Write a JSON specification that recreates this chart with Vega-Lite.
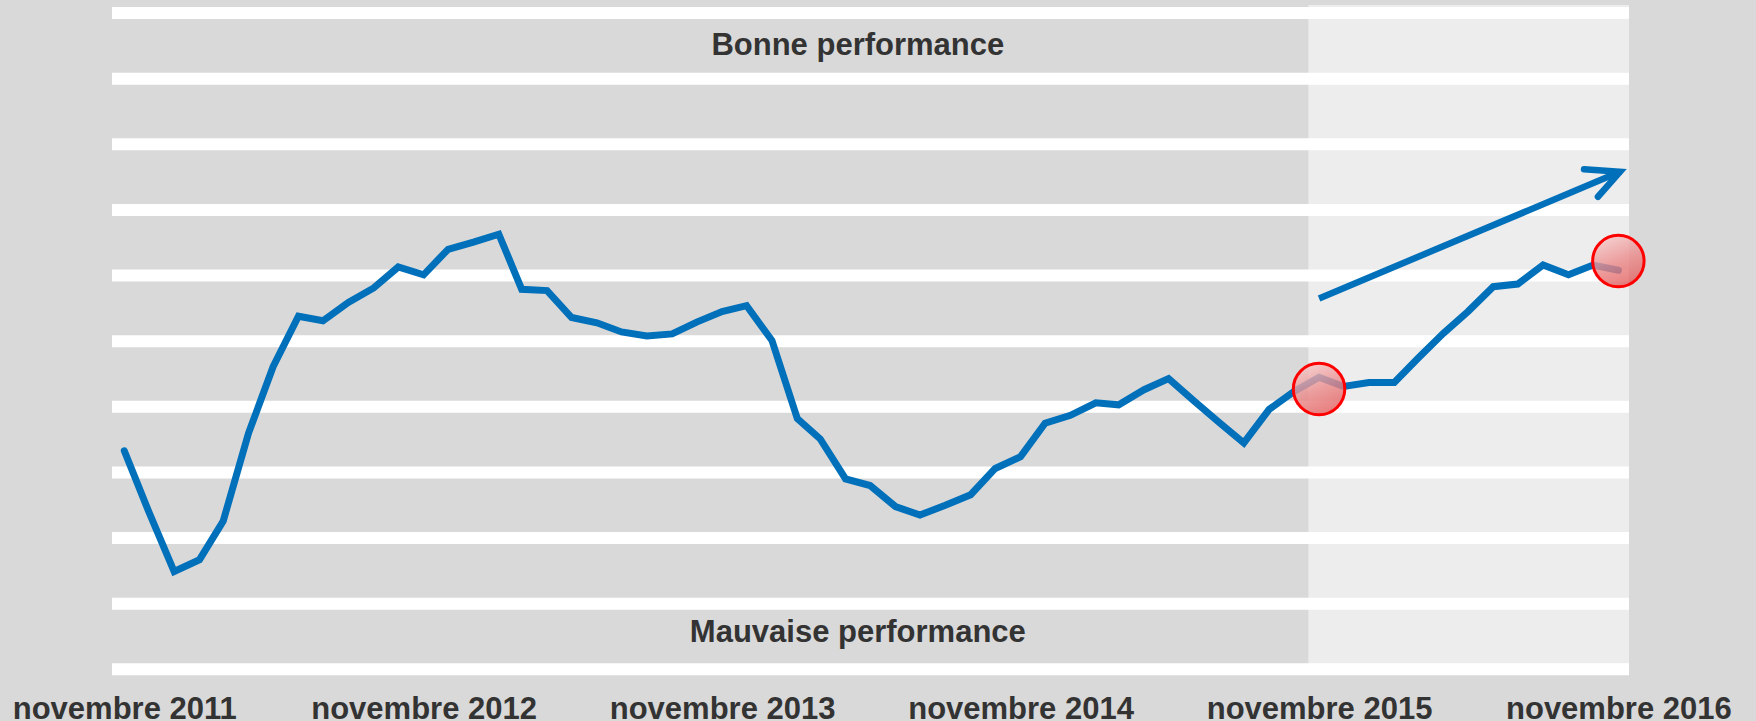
{
  "$schema": "https://vega.github.io/schema/vega-lite/v6.json",
  "width": 1517,
  "height": 680,
  "autosize": {"type": "none"},
  "padding": {"left": 112, "top": 0, "right": 127, "bottom": 41},
  "background": "#D9D9D9",
  "config": {"view": {"stroke": null, "fill": null}},
  "datasets": {
    "serie": [
      {"date": "2011-11-01", "valeur": 3.33},
      {"date": "2011-12-01", "valeur": 2.40},
      {"date": "2012-01-01", "valeur": 1.49},
      {"date": "2012-02-01", "valeur": 1.67},
      {"date": "2012-03-01", "valeur": 2.26},
      {"date": "2012-04-01", "valeur": 3.60},
      {"date": "2012-05-01", "valeur": 4.61},
      {"date": "2012-06-01", "valeur": 5.38},
      {"date": "2012-07-01", "valeur": 5.31},
      {"date": "2012-08-01", "valeur": 5.59},
      {"date": "2012-09-01", "valeur": 5.81},
      {"date": "2012-10-01", "valeur": 6.13},
      {"date": "2012-11-01", "valeur": 6.01},
      {"date": "2012-12-01", "valeur": 6.40},
      {"date": "2013-01-01", "valeur": 6.51},
      {"date": "2013-02-01", "valeur": 6.63},
      {"date": "2013-03-01", "valeur": 5.79},
      {"date": "2013-04-01", "valeur": 5.77},
      {"date": "2013-05-01", "valeur": 5.36},
      {"date": "2013-06-01", "valeur": 5.28},
      {"date": "2013-07-01", "valeur": 5.14},
      {"date": "2013-08-01", "valeur": 5.08},
      {"date": "2013-09-01", "valeur": 5.11},
      {"date": "2013-10-01", "valeur": 5.29},
      {"date": "2013-11-01", "valeur": 5.45},
      {"date": "2013-12-01", "valeur": 5.54},
      {"date": "2014-01-01", "valeur": 5.01},
      {"date": "2014-02-01", "valeur": 3.82},
      {"date": "2014-03-01", "valeur": 3.51},
      {"date": "2014-04-01", "valeur": 2.90},
      {"date": "2014-05-01", "valeur": 2.80},
      {"date": "2014-06-01", "valeur": 2.48},
      {"date": "2014-07-01", "valeur": 2.35},
      {"date": "2014-08-01", "valeur": 2.50},
      {"date": "2014-09-01", "valeur": 2.66},
      {"date": "2014-10-01", "valeur": 3.06},
      {"date": "2014-11-01", "valeur": 3.24},
      {"date": "2014-12-01", "valeur": 3.75},
      {"date": "2015-01-01", "valeur": 3.87},
      {"date": "2015-02-01", "valeur": 4.06},
      {"date": "2015-03-01", "valeur": 4.03},
      {"date": "2015-04-01", "valeur": 4.26},
      {"date": "2015-05-01", "valeur": 4.43},
      {"date": "2015-06-01", "valeur": 4.09},
      {"date": "2015-07-01", "valeur": 3.77},
      {"date": "2015-08-01", "valeur": 3.45},
      {"date": "2015-09-01", "valeur": 3.96},
      {"date": "2015-10-01", "valeur": 4.23},
      {"date": "2015-11-01", "valeur": 4.45},
      {"date": "2015-12-01", "valeur": 4.31},
      {"date": "2016-01-01", "valeur": 4.37},
      {"date": "2016-02-01", "valeur": 4.37},
      {"date": "2016-03-01", "valeur": 4.74},
      {"date": "2016-04-01", "valeur": 5.12},
      {"date": "2016-05-01", "valeur": 5.45},
      {"date": "2016-06-01", "valeur": 5.83},
      {"date": "2016-07-01", "valeur": 5.87},
      {"date": "2016-08-01", "valeur": 6.16},
      {"date": "2016-09-01", "valeur": 6.01},
      {"date": "2016-10-01", "valeur": 6.16},
      {"date": "2016-11-01", "valeur": 6.08}
    ]
  },
  "layer": [
    {
      "data": {"values": [{"date": "2015-10-19", "date2": "2016-11-14", "valeur": 0, "valeur2": 10.12}]},
      "mark": {"type": "rect", "color": "#EDEDED"},
      "encoding": {
        "x": {"field": "date", "type": "temporal",
              "scale": {"type": "utc", "domain": [{"year": 2011, "month": 10, "date": 17, "utc": true}, {"year": 2016, "month": 11, "date": 14, "utc": true}]},
              "axis": {
                "title": null, "grid": false, "domain": false, "ticks": false, "tickSize": 0,
                "values": [
                  {"year": 2011, "month": 11, "date": 1, "utc": true},
                  {"year": 2012, "month": 11, "date": 1, "utc": true},
                  {"year": 2013, "month": 11, "date": 1, "utc": true},
                  {"year": 2014, "month": 11, "date": 1, "utc": true},
                  {"year": 2015, "month": 11, "date": 1, "utc": true},
                  {"year": 2016, "month": 11, "date": 1, "utc": true}
                ],
                "labelExpr": "'novembre ' + utcFormat(datum.value, '%Y')",
                "labelFont": "Liberation Sans", "labelFontSize": 31, "labelFontWeight": "bold",
                "labelColor": "#333333", "labelBaseline": "alphabetic", "labelPadding": 38,
                "labelFlush": false, "labelOverlap": false, "labelBound": false, "labelLimit": 0
              }},
        "x2": {"field": "date2"},
        "y": {"field": "valeur", "type": "quantitative", "scale": {"domain": [-0.163, 10.198], "nice": false, "zero": false}, "axis": null},
        "y2": {"field": "valeur2"}
      }
    },
    {
      "data": {"values": [{"valeur": 0}, {"valeur": 1}, {"valeur": 2}, {"valeur": 3}, {"valeur": 4}, {"valeur": 5}, {"valeur": 6}, {"valeur": 7}, {"valeur": 8}, {"valeur": 9}, {"valeur": 10}]},
      "mark": {"type": "rule", "color": "#FFFFFF", "strokeWidth": 12},
      "encoding": {
        "y": {"field": "valeur", "type": "quantitative", "scale": {"domain": [-0.163, 10.198], "nice": false, "zero": false}, "axis": null}
      }
    },
    {
      "data": {"values": [
        {"date": "2014-04-16", "valeur": 9.36, "texte": "Bonne performance"},
        {"date": "2014-04-16", "valeur": 0.42, "texte": "Mauvaise performance"}
      ]},
      "mark": {"type": "text", "font": "Liberation Sans", "fontSize": 31, "fontWeight": "bold", "color": "#333333", "align": "center", "baseline": "alphabetic"},
      "encoding": {
        "x": {"field": "date", "type": "temporal"},
        "y": {"field": "valeur", "type": "quantitative", "scale": {"domain": [-0.163, 10.198], "nice": false, "zero": false}, "axis": null},
        "text": {"field": "texte"}
      }
    },
    {
      "data": {"name": "serie"},
      "mark": {"type": "line", "color": "#0070BA", "strokeWidth": 7, "strokeCap": "round", "strokeJoin": "miter"},
      "encoding": {
        "x": {"field": "date", "type": "temporal"},
        "y": {"field": "valeur", "type": "quantitative", "scale": {"domain": [-0.163, 10.198], "nice": false, "zero": false}, "axis": null}
      }
    },
    {
      "data": {"values": [
        {"date": "2015-11-01", "valeur": 5.65},
        {"date": "2016-11-03", "valeur": 7.58}
      ]},
      "mark": {"type": "line", "color": "#0070BA", "strokeWidth": 6.5, "strokeCap": "butt"},
      "encoding": {
        "x": {"field": "date", "type": "temporal"},
        "y": {"field": "valeur", "type": "quantitative", "scale": {"domain": [-0.163, 10.198], "nice": false, "zero": false}, "axis": null}
      }
    },
    {
      "data": {"values": [
        {"ordre": 1, "date": "2016-09-20", "valeur": 7.62},
        {"ordre": 2, "date": "2016-11-03", "valeur": 7.58},
        {"ordre": 3, "date": "2016-10-07", "valeur": 7.20}
      ]},
      "mark": {"type": "line", "color": "#0070BA", "strokeWidth": 6.5, "strokeCap": "round", "strokeJoin": "miter"},
      "encoding": {
        "x": {"field": "date", "type": "temporal"},
        "y": {"field": "valeur", "type": "quantitative", "scale": {"domain": [-0.163, 10.198], "nice": false, "zero": false}, "axis": null},
        "order": {"field": "ordre"}
      }
    },
    {
      "data": {"values": [
        {"date": "2015-11-01", "valeur": 4.27},
        {"date": "2016-11-01", "valeur": 6.22}
      ]},
      "mark": {"type": "point", "shape": "circle", "size": 2650, "filled": true,
               "fill": {"gradient": "linear", "x1": 0.3, "y1": 0, "x2": 0.7, "y2": 1,
                        "stops": [{"offset": 0, "color": "#F6C8C8"}, {"offset": 0.5, "color": "#EC8A8A"}, {"offset": 1, "color": "#E05A5A"}]},
               "fillOpacity": 0.8, "stroke": "#FF0000", "strokeWidth": 3, "opacity": 1},
      "encoding": {
        "x": {"field": "date", "type": "temporal"},
        "y": {"field": "valeur", "type": "quantitative", "scale": {"domain": [-0.163, 10.198], "nice": false, "zero": false}, "axis": null}
      }
    }
  ]
}
